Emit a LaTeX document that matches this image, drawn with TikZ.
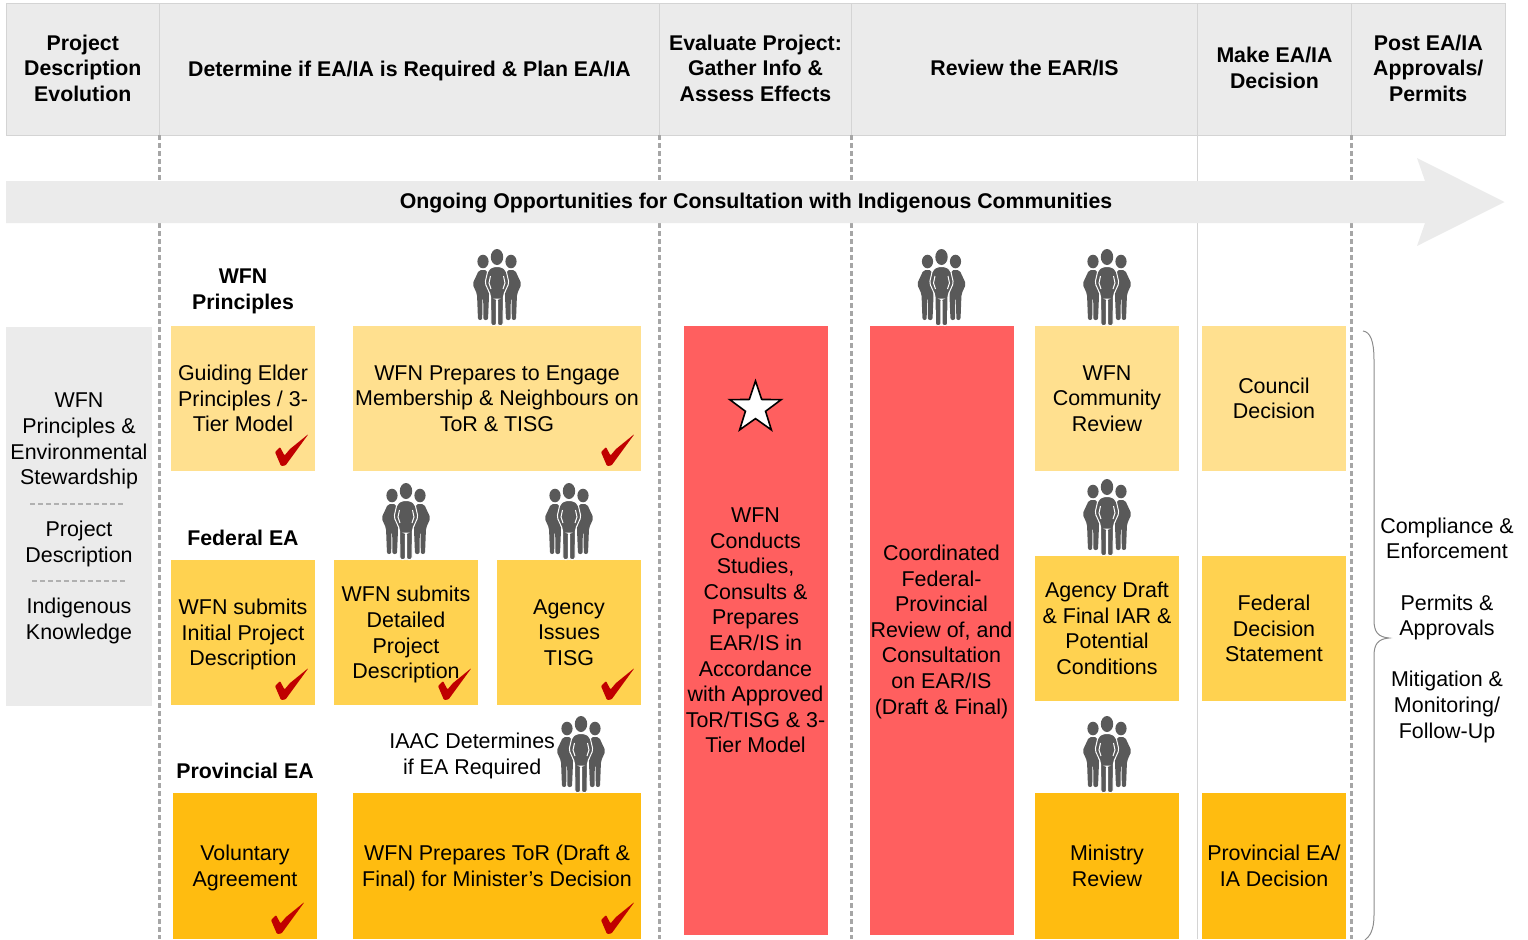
\documentclass[tikz,border=0pt]{standalone}
\usepackage{fontspec}
\setmainfont{Liberation Sans}
\usetikzlibrary{positioning,shapes.geometric}
\definecolor{panelgrey}{HTML}{EBEBEB}
\definecolor{edgegrey}{HTML}{D4D4D4}
\definecolor{lanegrey}{HTML}{A6A6A6}
\definecolor{rulegrey}{HTML}{B0B0B0}
\definecolor{mangrey}{HTML}{595959}
\definecolor{softgold}{HTML}{FFE08F}
\definecolor{midgold}{HTML}{FFD250}
\definecolor{deepgold}{HTML}{FFBC10}
\definecolor{hotred}{HTML}{FF5F5F}
\definecolor{tickred}{HTML}{C00000}

\begin{document}
\begin{tikzpicture}[x=0.5pt,y=-0.5pt,
font=\fontsize{10.72}{12.8}\selectfont,
every node/.style={inner sep=0pt,outer sep=0pt,align=center},
head/.style={fill=panelgrey,draw=edgegrey,line width=0.4pt,minimum height=66pt,text depth=1pt,font=\fontsize{10.65}{12.8}\selectfont\bfseries},
rowtitle/.style={font=\fontsize{10.65}{12.8}\selectfont\bfseries},
softbox/.style={fill=softgold,minimum width=72pt,minimum height=72.5pt},
midbox/.style={fill=midgold,minimum width=72pt,minimum height=72.5pt},
deepbox/.style={fill=deepgold,minimum width=72pt,minimum height=73pt},
redbox/.style={fill=hotred,minimum width=72pt,minimum height=304.5pt},
lane/.style={draw=lanegrey,line width=1.3pt,dash pattern=on 2.5pt off 1.5pt},
rule/.style={draw=rulegrey,line width=0.8pt,dash pattern=on 2.5pt off 1.5pt},
crowd/.pic={
  \foreach \s in {-1,1} {
    \fill[mangrey] (\s*14,-64.5) ellipse[x radius=5.6,y radius=6.8];
    \fill[mangrey,rounded corners=1pt] (\s*18,-56) -- (\s*10,-56) -- (\s*8,-30) -- (\s*9,-6) -- (\s*13.6,-6)
      -- (\s*13.8,-28) -- (\s*14.6,-28) -- (\s*14.8,-6) -- (\s*19,-6) -- (\s*20,-32) -- (\s*24.5,-42) -- cycle;
  }
  \filldraw[mangrey,draw=white,line width=0.5pt,rounded corners=1pt] (-4,-59.5) -- (4,-59.5) -- (9,-56) -- (12,-43) -- (6.5,-31)
    -- (6,-0.5) -- (0.6,-0.5) -- (0.5,-27) -- (-0.5,-27) -- (-0.6,-0.5) -- (-6,-0.5) -- (-6.5,-31) -- (-12,-43) -- (-9,-56) -- cycle;
  \fill[mangrey] (0,-69) ellipse[x radius=6.2,y radius=8];
  \draw[white,line width=0.5pt] (-6.5,-50) -- (-8,-43) -- (-6,-37) (6.5,-50) -- (8,-43) -- (6,-37);
},
tick/.pic={
  \fill[tickred,rounded corners=0.5pt] (-40,-19) -- (-34,-5) -- (-29.5,-5.5) -- (-6.5,-37) -- (-25,-22) -- (-30.5,-15.5) -- (-35,-24) -- cycle;
}]

\useasboundingbox (0,0) rectangle (1528,939);
\coordinate (foot) at (0,939);

% top band
\node[head,minimum width=76.75pt] (head1) at (82.75,69) {Project\\Description\\Evolution};
\node[head,minimum width=250pt,text depth=0.5pt,right=0pt of head1] (head2) {Determine if EA/IA is Required \& Plan EA/IA};
\node[head,minimum width=96pt,right=0pt of head2] (head3) {Evaluate Project:\\Gather Info \&\\Assess Effects};
\node[head,minimum width=173pt,right=0pt of head3] (head4) {Review the EAR/IS};
\node[head,minimum width=77pt,right=0pt of head4] (head5) {Make EA/IA\\Decision};
\node[head,minimum width=76.75pt,right=0pt of head5] (head6) {Post EA/IA\\Approvals/\\Permits};

\draw[lane] (head1.south east) -- (head1.south east |- foot);
\draw[lane] (head2.south east) -- (head2.south east |- foot);
\draw[lane] (head3.south east) -- (head3.south east |- foot);
\draw[edgegrey,line width=0.4pt] (head4.south east) -- (head4.south east |- foot);
\draw[lane] (head5.south east) -- (head5.south east |- foot);

\fill[panelgrey] (6,181) -- (1425,181) -- (1417,158) -- (1504.5,202) -- (1417,246) -- (1425,223) -- (6,223) -- cycle;
\node[rowtitle,text depth=0pt] (ongoing) at (756,200.5) {Ongoing Opportunities for Consultation with Indigenous Communities};

% left column
\node[fill=panelgrey,minimum width=73pt,minimum height=189.5pt] (basis) at (79,516.5) {};
\node[text depth=0pt] (basis1) at (79,439) {WFN\\Principles \&\\Environmental\\Stewardship};
\node[text depth=0pt] (basis2) at (79,542) {Project\\Description};
\node[text depth=0pt] (basis3) at (79,619) {Indigenous\\Knowledge};
\coordinate (rule1a) at (30,504);
\coordinate (rule1b) at (126,504);
\coordinate (rule2a) at (32,581);
\coordinate (rule2b) at (128,581);
\draw[rule] (rule1a) -- (rule1b);
\draw[rule] (rule2a) -- (rule2b);

% boxes
\node[softbox] (guide) at (243,398.5) {Guiding Elder\\Principles / 3-\\Tier Model};
\node[softbox,minimum width=144pt,right=19pt of guide] (engage) {WFN Prepares to Engage\\Membership \& Neighbours on\\ToR \& TISG};
\node[midbox,text depth=0pt,below=44.5pt of guide] (initial) {WFN submits\\Initial Project\\Description};
\node[midbox,text depth=0pt,right=9.5pt of initial] (detail) {WFN submits\\Detailed\\Project\\Description};
\node[midbox,right=9.5pt of detail] (issues) {Agency\\Issues\\TISG};
\node[deepbox,text depth=0pt,below=44pt of initial,xshift=1pt] (volun) {Voluntary\\Agreement};
\node[deepbox,text depth=0pt,minimum width=144pt,right=18pt of volun] (draft) {WFN Prepares ToR (Draft \&\\Final) for Minister’s Decision};

\node[redbox,right=21.25pt of engage.north east,anchor=north west] (studies) {WFN\\Conducts\\Studies,\\Consults \&\\Prepares\\EAR/IS in\\Accordance\\with Approved\\ToR/TISG \& 3-\\Tier Model};
\node[redbox,text depth=1pt,right=21pt of studies.north east,anchor=north west] (review) {Coordinated\\Federal-\\Provincial\\Review of, and\\Consultation\\on EAR/IS\\(Draft \& Final)};
\node[softbox,right=10.75pt of review.north east,anchor=north west] (commun) {WFN\\Community\\Review};
\node[softbox,right=11.5pt of commun] (council) {Council\\Decision};
\node[midbox,below=42.5pt of commun] (agency) {Agency Draft\\\& Final IAR \&\\Potential\\Conditions};
\node[midbox,right=11.5pt of agency] (federal) {Federal\\Decision\\Statement};
\node[deepbox,below=46pt of agency] (minist) {Ministry\\Review};
\node[deepbox,right=11.5pt of minist] (provin) {Provincial EA/\\IA Decision};

% row titles
\node[rowtitle,above=6pt of guide] (ttwfn) {WFN\\Principles};
\node[rowtitle,above=7pt of initial] (ttfed) {Federal EA};
\node[rowtitle,above=7pt of volun] (ttprov) {Provincial EA};
\node[right=29pt of draft.north,anchor=south east,yshift=7pt] (iaac) {IAAC Determines\\if EA Required};

\node[star,star points=5,star point ratio=2.55,fill=white,draw=black,line width=0.8pt,minimum size=27pt] (mark) at (755.5,408) {};

% people
\path (engage.north) pic {crowd};
\path (detail.north) pic {crowd};
\path (issues.north) pic {crowd};
\path ([xshift=42pt]draft.north) pic {crowd};
\path (review.north) pic {crowd};
\path (commun.north) pic {crowd};
\path (agency.north) pic {crowd};
\path (minist.north) pic {crowd};

% checks
\path (guide.south east) pic {tick};
\path (engage.south east) pic {tick};
\path (initial.south east) pic {tick};
\path (detail.south east) pic {tick};
\path (issues.south east) pic {tick};
\path ([xshift=-3pt]volun.south east) pic {tick};
\path (draft.south east) pic {tick};

% right side
\draw[black!45,line width=0.5pt] (1363,331) .. controls (1370,332) and (1374,340) .. (1374,360) -- (1374,620)
  .. controls (1374,632) and (1378,637) .. (1389,638) .. controls (1378,639) and (1374,644) .. (1374,656)
  -- (1374,915) .. controls (1374,930) and (1370,936) .. (1365,940);
\node[text depth=0pt] (after) at (1447,628) {Compliance \&\\Enforcement\\[12.8pt]Permits \&\\Approvals\\[12.8pt]Mitigation \&\\Monitoring/\\Follow-Up};

\end{tikzpicture}
\end{document}
